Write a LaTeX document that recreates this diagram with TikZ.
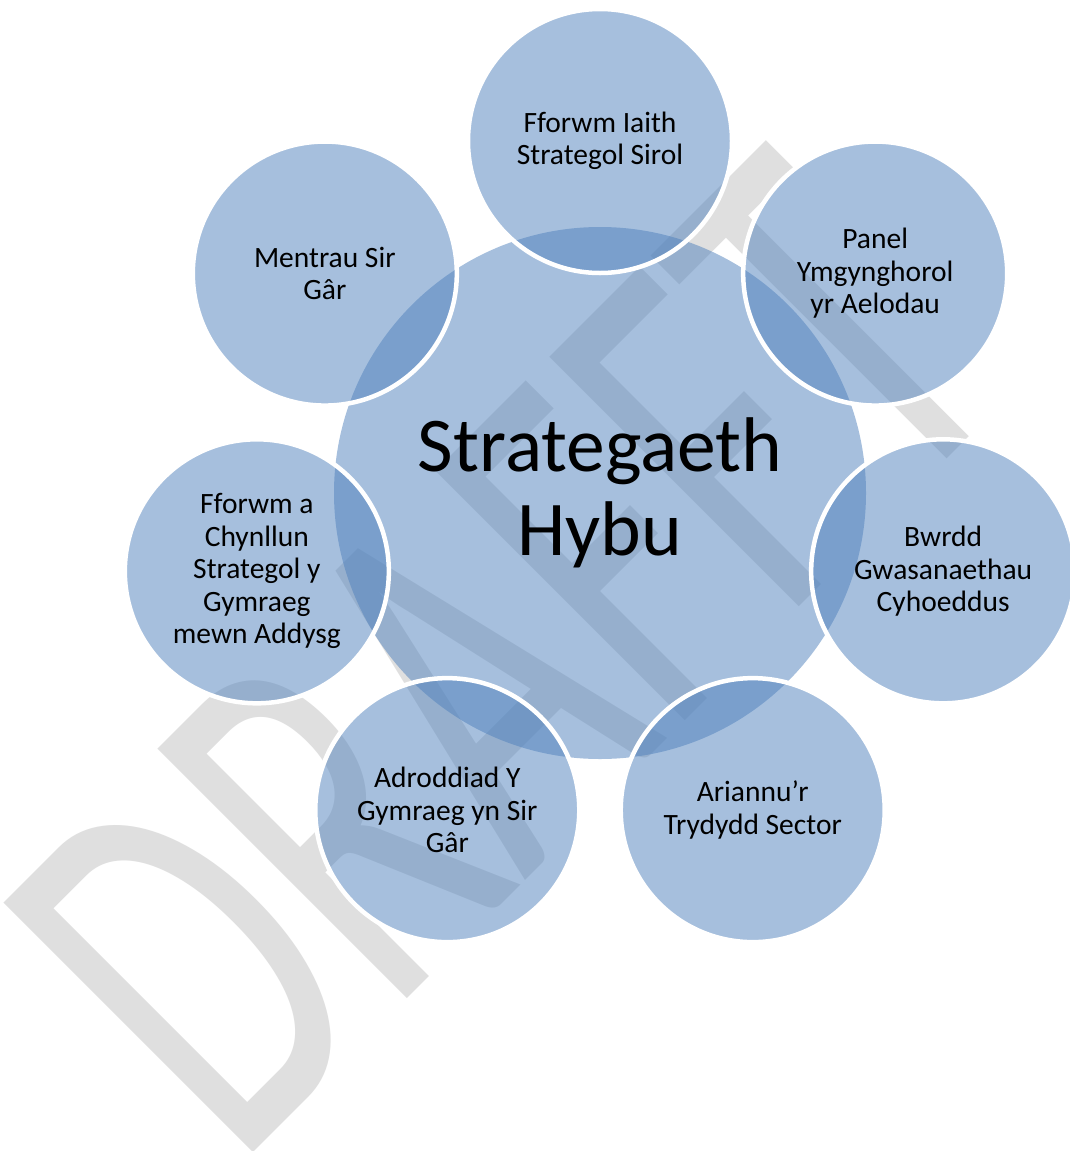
\documentclass[tikz,border=0pt]{standalone}
\usepackage{fontspec}
\setmainfont{Carlito}
\newfontfamily\wmfont{Carlito}
\definecolor{accent}{RGB}{79,129,189}
\definecolor{wmgray}{RGB}{223,223,223}
\tikzset{
  hub/.style={circle, fill=accent, fill opacity=0.5, text opacity=1, draw=none,
    minimum size=532pt, inner sep=0pt, align=center,
    font=\fontsize{77.5}{84}\selectfont},
  sat/.style={circle, fill=accent, fill opacity=0.5, text opacity=1, draw=white,
    line width=4.5pt, minimum size=264pt, inner sep=0pt, align=center,
    font=\fontsize{29.5}{32.5}\selectfont},
  watermark/.style={transform shape, anchor=base west, inner sep=0pt, xscale=0.64,
    text=wmgray, font=\wmfont\fontsize{550}{550}\selectfont}
}
\begin{document}
\begin{tikzpicture}[x=1pt,y=1pt]
\useasboundingbox (0,0) rectangle (1070,-1151);
\fill[white] (0,0) rectangle (1070,-1151);
% watermark
\begin{scope}[shift={(703,-703)}, rotate=45]
  \node[watermark] (wm) at (-660,0) {DRAFFT};
\end{scope}
% central circle
\node[hub] (hub) at (600,-493) {Strategaeth\\Hybu};
% satellites
\begin{scope}[shift={(600,-493)}]
  \node[sat] (s0) at (90:352) {Fforwm Iaith\\Strategol Sirol};
  \node[sat] (s1) at (38.571:352) {Panel\\Ymgynghorol\\yr Aelodau};
  \node[sat] (s2) at (-12.857:352) {Bwrdd\\Gwasanaethau\\Cyhoeddus};
  \node[sat] (s3) at (-64.286:352) {Ariannu'r\\Trydydd Sector};
  \node[sat] (s4) at (-115.714:352) {Adroddiad Y\\Gymraeg yn Sir\\Gâr};
  \node[sat] (s5) at (-167.143:352) {Fforwm a\\Chynllun\\Strategol y\\Gymraeg\\mewn Addysg};
  \node[sat] (s6) at (141.429:352) {Mentrau Sir\\Gâr};
\end{scope}
\end{tikzpicture}
\end{document}
